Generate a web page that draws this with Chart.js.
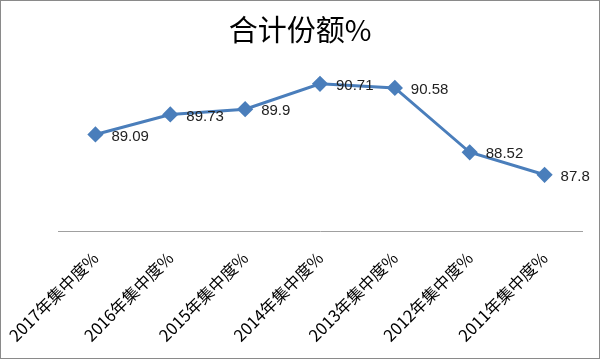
<!DOCTYPE html>
<html>
<head>
<meta charset="utf-8">
<script src="https://cdn.jsdelivr.net/npm/chart.js@4/dist/chart.umd.min.js"></script>
<style>
  html, body { margin: 0; padding: 0; background: #fff; }
  #wrap { width: 598px; height: 357px; border: 1px solid #8a8a8a; }
</style>
</head>
<body>
<div id="wrap"><canvas id="c" width="598" height="357"></canvas></div>
<script>
// 年份类别
var categories = ['2017年集中度%', '2016年集中度%', '2015年集中度%', '2014年集中度%',
                  '2013年集中度%', '2012年集中度%', '2011年集中度%'];
// 合计份额
var shareValues = [89.09, 89.73, 89.9, 90.71, 90.58, 88.52, 87.8];
var labelTexts = ['89.09', '89.73', '89.9', '90.71', '90.58', '88.52', '87.8'];

var lineBlue = '#4a7ebb';
var cjkFont = '"Noto Sans CJK SC", "Noto Sans", sans-serif';

// 数据标签画在点的右侧
var pointLabels = {
  id: 'pointLabels',
  afterDatasetsDraw: function(chart) {
    var ctx = chart.ctx;
    var meta = chart.getDatasetMeta(0);
    ctx.save();
    ctx.font = '15px "Liberation Sans", "Noto Sans", sans-serif';
    ctx.fillStyle = '#222';
    ctx.textAlign = 'left';
    ctx.textBaseline = 'middle';
    meta.data.forEach(function(pt, i) {
      ctx.fillText(labelTexts[i], pt.x + 16, pt.y + 2);
    });
    ctx.restore();
  }
};

// 不可见的占位轴，只占宽度
function spacer(w) {
  return function(axis) { axis.width = w; };
}

new Chart(document.getElementById('c'), {
  type: 'line',
  data: {
    labels: categories,
    datasets: [{
      label: '合计份额%',
      data: shareValues,
      borderColor: lineBlue,
      backgroundColor: lineBlue,
      borderWidth: 3,
      pointStyle: 'rectRot',
      pointRadius: 6,
      pointHoverRadius: 6,
      tension: 0
    }]
  },
  options: {
    responsive: false,
    animation: false,
    layout: { padding: 0 },
    plugins: {
      legend: { display: false },
      tooltip: { enabled: false },
      title: {
        display: true,
        text: '合计份额%',
        color: '#000',
        font: { family: cjkFont, size: 29, weight: 'normal' },
        padding: { top: 12, bottom: 27 }
      }
    },
    scales: {
      x: {
        offset: true,
        grid: { display: false, drawTicks: false },
        border: { display: true, color: '#a0a0a0', width: 1 },
        ticks: {
          color: '#000',
          autoSkip: false,
          minRotation: 45,
          maxRotation: 45,
          padding: 17,
          font: { family: cjkFont, size: 16.5 }
        },
        afterFit: function(axis) {
          axis.paddingLeft = 0;
          axis.paddingRight = 0;
          axis.height = 127;
        }
      },
      y: {
        position: 'left',
        min: 86,
        max: 91,
        grid: { display: false },
        border: { display: false },
        ticks: { display: false },
        afterFit: spacer(57)
      },
      y2: {
        position: 'right',
        min: 86,
        max: 91,
        grid: { display: false },
        border: { display: false },
        ticks: { display: false },
        afterFit: spacer(17)
      }
    }
  },
  plugins: [pointLabels]
});
</script>
</body>
</html>
